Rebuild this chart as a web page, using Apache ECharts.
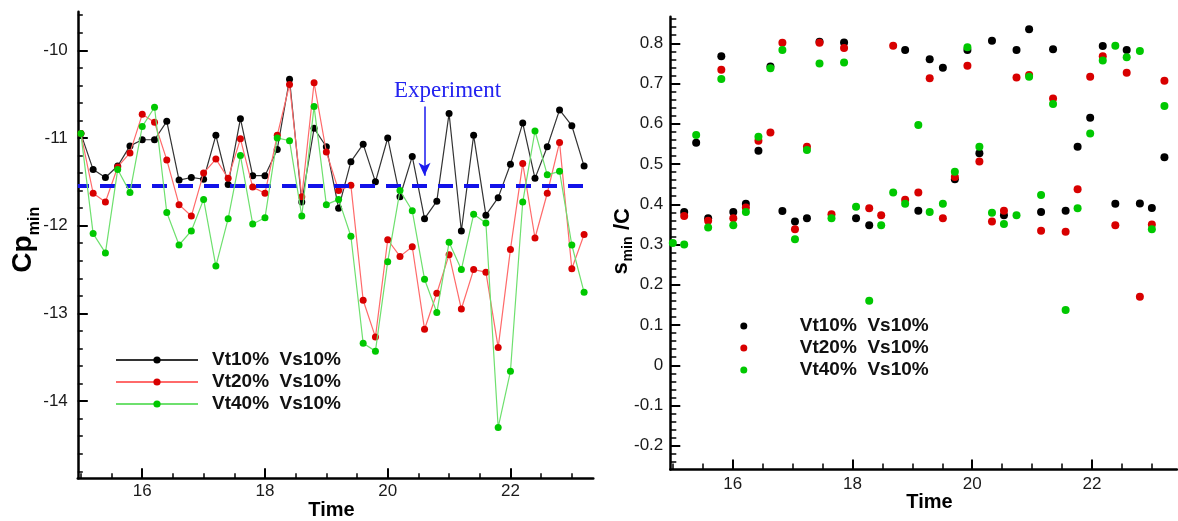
<!DOCTYPE html>
<html>
<head>
<meta charset="utf-8">
<script src="https://cdn.jsdelivr.net/npm/echarts@6/dist/echarts.min.js"></script>
<style>
  html, body { margin: 0; padding: 0; background: #ffffff; }
  #chart { width: 1178px; height: 521px; }
</style>
</head>
<body>
<div id="chart"></div>
<script>
// ---- minimum pressure coefficient history (left panel) ----
const cpTime = [15.0, 15.2, 15.4, 15.6, 15.8, 16.0, 16.2, 16.4, 16.6, 16.8,
                17.0, 17.2, 17.4, 17.6, 17.8, 18.0, 18.2, 18.4, 18.6, 18.8,
                19.0, 19.2, 19.4, 19.6, 19.8, 20.0, 20.2, 20.4, 20.6, 20.8,
                21.0, 21.2, 21.4, 21.6, 21.8, 22.0, 22.2, 22.4, 22.6, 22.8,
                23.0, 23.2];
const cpVt10 = [-10.95, -11.36, -11.45, -11.32, -11.09, -11.02, -11.02, -10.81, -11.48, -11.45,
                -11.47, -10.97, -11.53, -10.78, -11.43, -11.43, -11.13, -10.33, -11.73, -10.89,
                -11.10, -11.80, -11.27, -11.07, -11.50, -11.00, -11.67, -11.21, -11.92, -11.72,
                -10.72, -12.06, -10.97, -11.88, -11.68, -11.30, -10.83, -11.46, -11.10, -10.68,
                -10.86, -11.32];
const cpVt20 = [-10.95, -11.63, -11.73, -11.33, -11.17, -10.73, -10.82, -11.25, -11.76, -11.89,
                -11.40, -11.24, -11.46, -11.01, -11.56, -11.63, -10.97, -10.39, -11.67, -10.37,
                -11.16, -11.60, -11.54, -12.85, -13.27, -12.16, -12.35, -12.24, -13.18, -12.77,
                -12.33, -12.95, -12.50, -12.53, -13.39, -12.27, -11.29, -12.14, -11.63, -11.05,
                -12.49, -12.10];
const cpVt40 = [-10.95, -12.09, -12.31, -11.36, -11.62, -10.87, -10.65, -11.85, -12.22, -12.06,
                -11.70, -12.46, -11.92, -11.20, -11.98, -11.91, -11.00, -11.03, -11.89, -10.64,
                -11.76, -11.70, -12.12, -13.34, -13.43, -12.41, -11.60, -11.83, -12.61, -12.99,
                -12.19, -12.50, -11.87, -11.97, -14.30, -13.66, -11.73, -10.92, -11.42, -11.38,
                -12.22, -12.76];
const cpExperiment = -11.54;
const arrowTime = 20.6;
const arrowFrom = -10.64;
const arrowTo = -11.43;

// ---- chordwise location of the pressure minimum (right panel) ----
const sTime = [15.00, 15.19, 15.39, 15.59, 15.81, 16.01, 16.22, 16.43, 16.63, 16.83,
               17.04, 17.24, 17.45, 17.65, 17.86, 18.06, 18.28, 18.48, 18.68, 18.88,
               19.10, 19.29, 19.51, 19.71, 19.92, 20.12, 20.33, 20.53, 20.74, 20.95,
               21.15, 21.35, 21.56, 21.76, 21.97, 22.18, 22.39, 22.58, 22.80, 23.00,
               23.21];
const sVt10 = [null, 0.381, 0.553, 0.365, 0.768, 0.381, 0.401, 0.533, 0.742, 0.383,
               0.357, 0.365, 0.804, null, 0.802, 0.365, 0.348, null, null, 0.783,
               0.384, 0.760, 0.739, 0.462, 0.783, 0.527, 0.806, 0.373, 0.783, 0.835,
               0.381, 0.785, 0.384, 0.543, 0.615, 0.793, 0.401, 0.783, 0.402, 0.391,
               0.517];
const sVt20 = [null, 0.371, null, 0.359, 0.734, 0.365, 0.392, 0.558, 0.578, 0.801,
               0.338, 0.543, 0.801, 0.375, 0.788, null, 0.390, 0.373, 0.794, 0.411,
               0.429, 0.713, 0.365, 0.468, 0.744, 0.506, 0.357, 0.384, 0.715, 0.721,
               0.334, 0.663, 0.332, 0.437, 0.717, 0.768, 0.348, 0.727, 0.170, 0.350,
               0.707];
const sVt40 = [0.304, 0.300, 0.572, 0.342, 0.711, 0.348, 0.381, 0.568, 0.738, 0.783,
               0.313, 0.535, 0.750, 0.365, 0.752, 0.394, 0.160, 0.348, 0.429, 0.401,
               0.597, 0.381, 0.401, 0.481, 0.790, 0.543, 0.379, 0.351, 0.373, 0.717,
               0.423, 0.649, 0.137, 0.390, 0.576, 0.757, 0.794, 0.765, 0.781, 0.338,
               0.644];

// ---- legend texts and tick labels ----
const caseLabels = ['Vt10%  Vs10%', 'Vt20%  Vs10%', 'Vt40%  Vs10%'];
const timeTicks = [16, 18, 20, 22];
const cpTicks = [-14, -13, -12, -11, -10];
const sTicks = [-0.2, -0.1, 0, 0.1, 0.2, 0.3, 0.4, 0.5, 0.6, 0.7, 0.8];

// ---- styling ----
const FONT = '"Liberation Sans", Arial, Helvetica, sans-serif';
const markerColors = ['#000000', '#d80000', '#00c800'];
const lineColors = ['#333333', '#ff6a6a', '#6ee06e'];

function steps(from, to, step) {
  const out = [];
  const n = Math.round((to - from) / step);
  for (let i = 0; i <= n; i++) out.push(+(from + i * step).toFixed(4));
  return out;
}
const timeMinor = steps(15, 23, 0.5);
const cpMinor = steps(-14.8, -9.6, 0.2);
const sMinor = steps(-0.24, 0.86, 0.02);

const leftBox = { left: 77.8, top: 11.7, width: 515.5, height: 466.6 };
const rightBox = { left: 670.3, top: 16.7, width: 506.7, height: 452.8 };
const leftX = { min: 14.95, max: 23.35 };
const rightX = { min: 14.958, max: 23.42 };
const leftY = { min: -14.88, max: -9.56 };
const rightY = { min: -0.259, max: 0.866 };

function majorAxis(range, gridIndex, ticks, labelMargin, fontSize, fmt) {
  return Object.assign({
    type: 'value', gridIndex: gridIndex, scale: true,
    axisLine: { show: true, onZero: false, lineStyle: { color: '#000', width: 2.5 } },
    axisTick: { show: true, inside: true, length: 10, customValues: ticks,
                lineStyle: { color: '#000', width: 2 } },
    axisLabel: { show: true, customValues: ticks, margin: labelMargin,
                 fontFamily: FONT, fontSize: fontSize, color: '#1a1a1a',
                 formatter: fmt || (v => String(v)) },
    splitLine: { show: false }
  }, range);
}
function minorAxis(range, gridIndex, ticks, len) {
  return Object.assign({
    type: 'value', gridIndex: gridIndex, scale: true,
    axisLine: { show: false, onZero: false },
    axisTick: { show: true, inside: true, length: len, customValues: ticks,
                lineStyle: { color: '#000', width: 1.5 } },
    axisLabel: { show: false },
    splitLine: { show: false }
  }, range);
}

const cpNames = ['cp-vt10', 'cp-vt20', 'cp-vt40'];
const sNames = ['s-vt10', 's-vt20', 's-vt40'];
const nameToLabel = {};
cpNames.forEach((n, i) => { nameToLabel[n] = caseLabels[i]; });
sNames.forEach((n, i) => { nameToLabel[n] = caseLabels[i]; });

const cpSeries = [cpVt10, cpVt20, cpVt40].map((vals, i) => ({
  name: cpNames[i], type: 'line', xAxisIndex: 0, yAxisIndex: 0,
  data: cpTime.map((t, k) => [t, vals[k]]),
  symbol: 'circle', symbolSize: 7, showSymbol: true,
  itemStyle: { color: markerColors[i], borderWidth: 0 },
  lineStyle: { color: lineColors[i], width: 1.2 },
  emphasis: { disabled: true },
  z: 3 + i
}));

const sSeries = [sVt10, sVt20, sVt40].map((vals, i) => ({
  name: sNames[i], type: 'scatter', xAxisIndex: 1, yAxisIndex: 1,
  data: sTime.map((t, k) => [t, vals[k]]).filter(p => p[1] !== null),
  symbol: 'circle', symbolSize: 8,
  itemStyle: { color: markerColors[i], borderWidth: 0, opacity: 1 },
  emphasis: { disabled: true },
  z: 3 + i
}));

const experimentSeries = {
  name: 'experiment', type: 'line', xAxisIndex: 0, yAxisIndex: 0, data: [],
  z: 10,
  markLine: {
    silent: true, animation: false, symbol: ['none', 'none'],
    label: { show: false },
    data: [
      { yAxis: cpExperiment,
        lineStyle: { type: [15, 11], dashOffset: 3.8, width: 4, color: '#1212e8' } },
      [
        { coord: [arrowTime, arrowFrom], symbol: 'none',
          label: { show: true, position: 'start', distance: 4, offset: [23, 0],
                   formatter: 'Experiment',
                   fontFamily: '"Liberation Serif", "Times New Roman", serif',
                   fontSize: 23, color: '#2323f0' },
          lineStyle: { type: 'solid', width: 1.5, color: '#1a1aee' } },
        { coord: [arrowTime, arrowTo], symbol: 'arrow', symbolSize: [9, 13] }
      ]
    ]
  }
};

const legendText = { fontFamily: FONT, fontSize: 19, fontWeight: 'bold', color: '#111' };

const option = {
  backgroundColor: '#ffffff',
  animation: false,
  grid: [
    Object.assign({ outerBoundsMode: 'none', containLabel: false }, leftBox),
    Object.assign({ outerBoundsMode: 'none', containLabel: false }, rightBox),
    Object.assign({ outerBoundsMode: 'none', containLabel: false }, leftBox),
    Object.assign({ outerBoundsMode: 'none', containLabel: false }, rightBox)
  ],
  xAxis: [
    majorAxis(leftX, 0, timeTicks, 5, 17),
    majorAxis(rightX, 1, timeTicks, 6, 17),
    minorAxis(leftX, 2, timeMinor, 5),
    minorAxis(rightX, 3, timeMinor, 6)
  ],
  yAxis: [
    majorAxis(leftY, 0, cpTicks, 10, 17),
    majorAxis(rightY, 1, sTicks, 7, 17, v => (Math.abs(v) < 1e-9 ? '0' : String(+v.toFixed(1)))),
    minorAxis(leftY, 2, cpMinor, 5),
    minorAxis(rightY, 3, sMinor, 6)
  ],
  legend: [
    { orient: 'vertical', left: 115, top: 350.5, padding: 0,
      itemWidth: 82, itemHeight: 9, itemGap: 3,
      data: cpNames, formatter: n => nameToLabel[n],
      textStyle: Object.assign({ padding: [0, 0, 0, 9] }, legendText),
      selectedMode: true },
    { orient: 'vertical', left: 740.3, top: 316.5, padding: 0,
      itemWidth: 102, itemHeight: 7, itemGap: 3,
      data: sNames, formatter: n => nameToLabel[n],
      textStyle: legendText, selectedMode: true }
  ],
  graphic: [
    // left axis titles
    { type: 'text', x: 23.4, y: 254, rotation: Math.PI / 2, silent: true,
      style: { text: 'Cp', fontFamily: FONT, fontSize: 28, fontWeight: 'bold',
               fill: '#000', align: 'center', verticalAlign: 'middle' } },
    { type: 'text', x: 34.4, y: 221, rotation: Math.PI / 2, silent: true,
      style: { text: 'min', fontFamily: FONT, fontSize: 16, fontWeight: 'bold',
               fill: '#000', align: 'center', verticalAlign: 'middle' } },
    { type: 'text', x: 331.5, y: 510, silent: true,
      style: { text: 'Time', fontFamily: FONT, fontSize: 20, fontWeight: 'bold',
               fill: '#000', align: 'center', verticalAlign: 'middle' } },
    // right axis titles
    { type: 'text', x: 621, y: 268.5, rotation: Math.PI / 2, silent: true,
      style: { text: 's', fontFamily: FONT, fontSize: 22, fontWeight: 'bold',
               fill: '#000', align: 'center', verticalAlign: 'middle' } },
    { type: 'text', x: 628.5, y: 249, rotation: Math.PI / 2, silent: true,
      style: { text: 'min', fontFamily: FONT, fontSize: 14, fontWeight: 'bold',
               fill: '#000', align: 'center', verticalAlign: 'middle' } },
    { type: 'text', x: 623, y: 219, rotation: Math.PI / 2, silent: true,
      style: { text: '/C', fontFamily: FONT, fontSize: 22, fontWeight: 'bold',
               fill: '#000', align: 'center', verticalAlign: 'middle' } },
    { type: 'text', x: 929.5, y: 502, silent: true,
      style: { text: 'Time', fontFamily: FONT, fontSize: 20, fontWeight: 'bold',
               fill: '#000', align: 'center', verticalAlign: 'middle' } }
  ],
  series: cpSeries.concat([experimentSeries], sSeries)
};

const chart = echarts.init(document.getElementById('chart'), null, { renderer: 'canvas' });
chart.setOption(option);
</script>
</body>
</html>
